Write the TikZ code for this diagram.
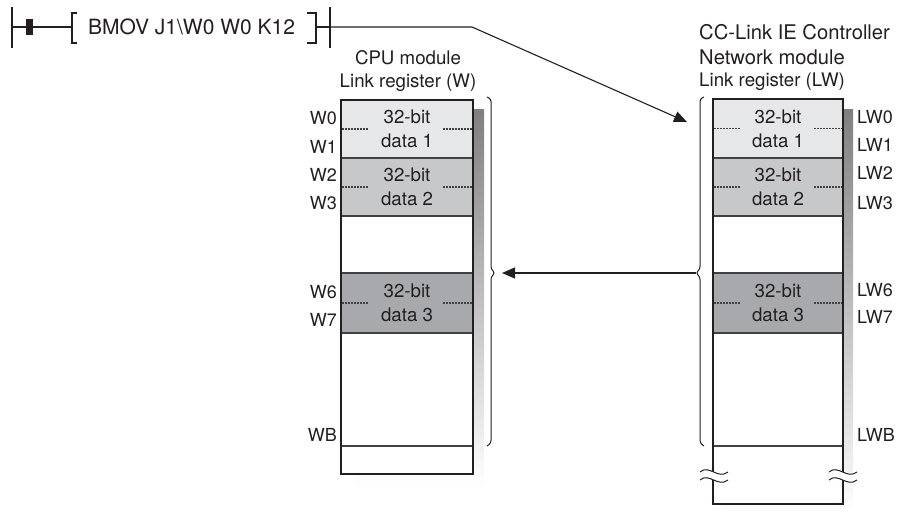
\documentclass[tikz,border=0pt]{standalone}
\usepackage{fontspec}
\setmainfont{TeX Gyre Heros}
\usetikzlibrary{positioning,arrows.meta}
\definecolor{ink}{HTML}{231F20}
\definecolor{rowgray}{HTML}{414042}
\definecolor{lite}{HTML}{E6E7E8}
\definecolor{mid}{HTML}{C7C8CA}
\definecolor{deep}{HTML}{A7A9AC}
\definecolor{shade}{HTML}{BCBEC0}
\tikzset{
txt/.style={font=\fontsize{18.7}{24}\selectfont,text=ink,inner sep=0pt},
bigtxt/.style={txt,font=\fontsize{20.2}{25}\selectfont},
datatxt/.style={txt,align=center},
frame/.style={draw=ink,line width=2.6pt},
rowline/.style={draw=rowgray,line width=1.3pt},
dotline/.style={draw=rowgray,line width=1.2pt,dash pattern=on 1.5pt off 1.5pt},
bracket/.style={draw=ink,line width=1pt,rounded corners=2.5pt},
rung/.style={draw=ink,line width=1.1pt},
wave/.style={draw=ink,line width=1pt}
}
\begin{document}
\begin{tikzpicture}[x=1pt,y=-1pt,>={Triangle[length=13pt,width=11pt]}]
\useasboundingbox (0,0) rectangle (898,513);

% ladder rung
\draw[rung] (12,7) -- (12,48);
\draw[rung] (12,27) -- (72,27);
\fill[ink] (26,19) rectangle (33,35);
\draw[rung] (77,13) -- (72,13) -- (72,43) -- (77,43);
\node[txt,font=\fontsize{21}{24}\selectfont,anchor=west] (instr) at (88,27)
  {BMOV J1\textbackslash W0 W0 K12};
\draw[rung] (307,13) -- (316,13) -- (316,43) -- (307,43);
\draw[rung] (316,27) -- (330,27);
\draw[rung] (330,7) -- (330,48);
\coordinate (rail) at (330,27);
\coordinate (bend) at (472,27);
\coordinate (lwin) at (687,122);
\draw[rung,->] (rail) -- (bend) -- (lwin);

% CPU module
\node[datatxt] (cpuhead) at (408,58) {CPU module};
\node[datatxt] (wreg) at (408,83) {Link register (W)};
\fill[shade] (355,110) rectangle (484,486);
\fill[white] (341,100) rectangle (473,474);
\foreach \top/\bot/\col/\n in {100/158/lite/1,158/216/mid/2,273/333/deep/3}{
  \fill[\col] (341,\top) rectangle (473,\bot);
  \node[datatxt] at (407,{(\top+\bot)/2}) {32-bit\\data \n};
  \draw[dotline] (342,{(\top+\bot)/2}) -- (368,{(\top+\bot)/2});
  \draw[dotline] (443,{(\top+\bot)/2}) -- (472,{(\top+\bot)/2});
}
\foreach \y in {158,216,273,333,446}
  \draw[rowline] (341,\y) -- (473,\y);
\draw[frame] (341,100) rectangle (473,474);
\foreach \lab/\y in {W0/118,W1/147,W2/175,W3/203,W6/292,W7/320,WB/435}
  \node[txt,font=\fontsize{18}{24}\selectfont,anchor=east] (\lab) at (337,\y) {\lab};

% CC-Link IE Controller Network module
\node[bigtxt,anchor=west] (lwhead) at (699,32) {CC-Link IE Controller};
\node[bigtxt,anchor=west] (lwsub) at (699,57) {Network module};
\node[txt,anchor=west] (lwreg) at (699,82) {Link register (LW)};
\fill[shade] (723,110) rectangle (853,513);
\fill[white] (713,99) rectangle (843,504);
\foreach \top/\bot/\col/\n in {99/158/lite/1,158/216/mid/2,273/333/deep/3}{
  \fill[\col] (713,\top) rectangle (843,\bot);
  \node[datatxt] at (778,{(\top+\bot)/2}) {32-bit\\data \n};
  \draw[dotline] (714,{(\top+\bot)/2}) -- (741,{(\top+\bot)/2});
  \draw[dotline] (814,{(\top+\bot)/2}) -- (842,{(\top+\bot)/2});
}
\foreach \y in {158,216,273,333,446}
  \draw[rowline] (713,\y) -- (843,\y);
\draw[frame] (713,99) rectangle (843,504);
\foreach \x in {700,829}{
  \fill[white] (\x,472) .. controls (\x+9,464) and (\x+18,480) .. (\x+28,472)
    -- (\x+28,480) .. controls (\x+18,488) and (\x+9,472) .. (\x,480) -- cycle;
  \draw[wave] (\x,472) .. controls (\x+9,464) and (\x+18,480) .. (\x+28,472);
  \draw[wave] (\x,480) .. controls (\x+9,472) and (\x+18,488) .. (\x+28,480);
}
\foreach \lab/\y in {LW0/117,LW1/145,LW2/173,LW3/203,LW6/290,LW7/317,LWB/435}
  \node[txt,font=\fontsize{18}{24}\selectfont,anchor=west] (\lab) at (857,\y) {\lab};

% braces and transfer
\draw[bracket] (487,97) -- (491,99) -- (491,269) -- (495,273)
  -- (491,277) -- (491,443) -- (487,446);
\draw[bracket] (704,97) -- (700,99) -- (700,269) -- (696,273)
  -- (700,277) -- (700,443) -- (704,446);
\coordinate (wtip) at (495,273);
\coordinate (lwtip) at (696,273);
\draw[rung,->,shorten >=7pt] (lwtip) -- (wtip);
\end{tikzpicture}
\end{document}
